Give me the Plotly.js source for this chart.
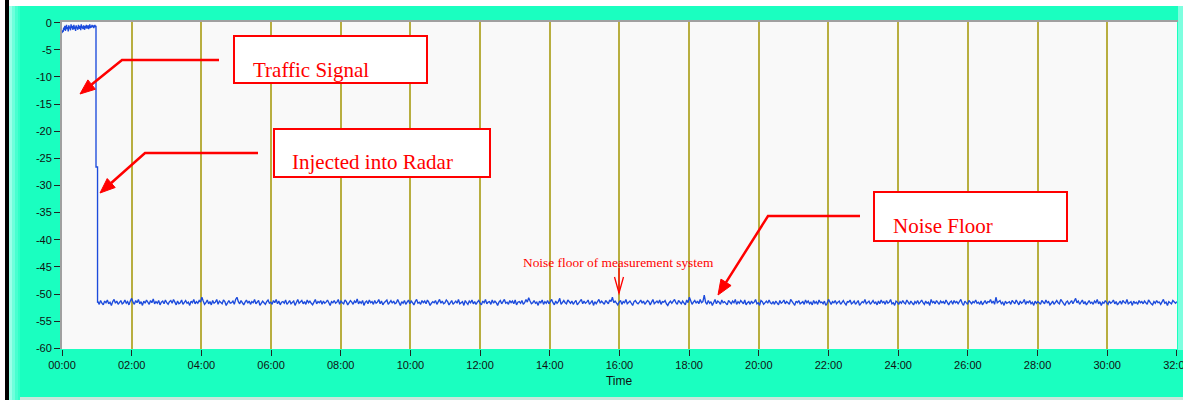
<!DOCTYPE html>
<html>
<head>
<meta charset="utf-8">
<script src="https://cdn.plot.ly/plotly-3.0.1.min.js"></script>
<style>html,body{margin:0;padding:0;background:#fff;}#chart{width:1183px;height:400px;}</style>
</head>
<body>
<div id="chart"></div>
<script>
// ---- data ----
const xTickVals = [0,2,4,6,8,10,12,14,16,18,20,22,24,26,28,30,32];
const xTickText = ["00:00","02:00","04:00","06:00","08:00","10:00","12:00","14:00","16:00","18:00","20:00","22:00","24:00","26:00","28:00","30:00","32:00"];
const yTickVals = [0,-5,-10,-15,-20,-25,-30,-35,-40,-45,-50,-55,-60];
const yTickText = ["0","-5","-10","-15","-20","-25","-30","-35","-40","-45","-50","-55","-60"];

// traffic signal before injection (0:00 .. ~0:57)
const trafficStart = 0.0, trafficEnd = 0.96;
const trafficLevel = [
-1.9,-1.4,-1.7,-0.9,-1.3,-0.6,-1.5,-1.0,-0.4,-1.2,-0.8,-1.6,-0.5,-1.1,-0.7,-1.4,-0.3,-1.0,-0.6,-1.3,
-0.9,-0.4,-1.2,-0.7,-1.5,-0.5,-1.0,-0.8,-1.3,-0.4,-0.9,-1.1,-0.6,-1.4,-0.3,-1.0,-0.7,-1.2,-0.5,-0.9,
-1.3,-0.6,-1.0,-0.4,-1.1,-0.8,-0.5,-1.2,-0.7,-0.3,-1.0,-0.6,-0.9,-0.4,-0.8,-0.5,-1.0,-0.6,-0.4,-0.7];

// step down while signal is injected into radar
const stepTime  = [0.976, 0.976, 1.02, 1.02];
const stepLevel = [-0.7, -26.6, -26.6, -51.6];

// noise floor of the measurement system (1:02 .. 32:00)
const noiseStart = 1.03, noiseEnd = 32.0;
const noiseLevel = [
-51.4,-51.9,-51.2,-51.7,-52.0,-51.3,-51.6,-51.1,-51.8,-51.5,-52.1,-51.4,-51.0,-51.7,-51.3,-51.9,-51.5,-51.2,-51.8,-51.6,-51.1,-51.7,-51.4,-52.0,-51.3,
-50.8,-51.5,-51.9,-51.2,-51.6,-51.0,-51.8,-51.4,-52.1,-51.3,-51.7,-51.1,-51.5,-51.9,-51.2,-51.6,-50.9,-51.8,-51.4,-51.7,-51.2,-52.0,-51.5,-51.3,-51.8,
-51.1,-51.6,-51.9,-51.4,-51.2,-51.7,-51.0,-51.5,-52.0,-51.3,-51.8,-51.6,-51.1,-51.9,-51.4,-51.2,-51.7,-51.5,-52.1,-51.3,-51.6,-51.0,-51.8,-51.4,-51.7,
-51.2,-51.5,-50.6,-51.3,-51.9,-51.6,-51.1,-51.8,-51.4,-52.0,-51.2,-51.7,-51.5,-51.0,-51.9,-51.3,-51.6,-51.8,-51.1,-51.4,-52.1,-51.5,-51.2,-51.7,-51.6,
-51.3,-51.9,-51.0,-50.6,-51.4,-51.8,-51.2,-51.6,-52.0,-51.5,-51.1,-51.7,-51.3,-51.9,-51.4,-51.6,-51.0,-51.8,-51.5,-51.2,-52.1,-51.7,-51.3,-51.6,-51.9,
-51.4,-51.1,-51.7,-51.5,-51.9,-51.2,-51.6,-51.0,-51.8,-51.3,-52.0,-51.5,-51.4,-51.7,-51.1,-51.9,-51.6,-51.2,-51.8,-51.5,-51.3,-52.1,-51.6,-51.0,-51.7,
-51.5,-51.2,-51.8,-51.4,-51.9,-51.1,-51.6,-51.3,-51.7,-52.0,-51.5,-51.0,-51.8,-51.4,-51.6,-51.2,-51.9,-51.3,-51.7,-51.5,-51.1,-51.8,-52.1,-51.4,-51.6,
-51.2,-51.7,-51.5,-51.0,-51.9,-51.3,-51.6,-51.8,-51.1,-51.4,-52.0,-51.7,-51.2,-51.5,-51.9,-51.3,-51.6,-50.9,-51.8,-51.4,-51.7,-51.2,-52.1,-51.5,-51.3,
-51.8,-51.1,-51.6,-51.4,-51.9,-51.2,-51.7,-51.5,-51.0,-51.8,-51.3,-52.0,-51.6,-51.4,-51.1,-51.9,-51.5,-51.2,-51.7,-51.3,-51.8,-51.6,-51.0,-51.5,-52.1,
-51.4,-51.7,-51.2,-51.9,-51.5,-51.1,-51.8,-51.3,-51.6,-52.0,-51.4,-51.0,-51.7,-51.5,-51.9,-51.2,-51.6,-51.3,-51.8,-51.1,-51.5,-52.1,-51.7,-51.4,-51.6,
-51.2,-51.9,-51.5,-51.0,-51.7,-51.3,-51.8,-51.6,-51.1,-51.4,-52.0,-51.5,-51.2,-51.9,-51.6,-51.3,-51.7,-51.0,-51.8,-51.5,-51.4,-52.1,-51.2,-51.6,-51.9,
-51.3,-51.6,-51.1,-51.8,-51.4,-51.9,-51.5,-51.2,-51.7,-52.0,-51.3,-51.6,-51.0,-51.8,-51.5,-51.4,-51.9,-51.1,-51.7,-51.3,-51.6,-52.1,-51.5,-51.2,-51.8,
-51.4,-51.0,-51.7,-51.5,-51.9,-51.2,-51.6,-51.3,-51.8,-51.1,-52.0,-51.5,-51.4,-51.7,-51.2,-51.9,-51.6,-51.0,-51.5,-50.7,-51.3,-51.8,-51.6,-51.2,-51.7,
-51.5,-52.1,-51.3,-51.6,-51.1,-51.9,-51.4,-51.7,-51.2,-51.8,-51.5,-51.0,-51.6,-52.0,-51.3,-51.7,-51.4,-50.8,-51.9,-51.5,-51.2,-51.6,-51.8,-51.1,-51.4,
-51.7,-51.3,-51.9,-51.5,-51.2,-52.0,-51.6,-51.4,-51.0,-51.8,-51.3,-51.7,-51.5,-51.1,-51.9,-51.6,-51.2,-52.1,-51.4,-51.8,-51.5,-51.0,-51.7,-51.3,-51.6,
-51.9,-51.2,-51.5,-51.8,-51.1,-51.4,-50.6,-51.6,-51.3,-51.7,-52.0,-51.5,-51.2,-51.9,-51.4,-51.6,-51.0,-51.8,-51.5,-51.3,-51.7,-52.1,-51.4,-51.2,-51.6,
-51.8,-51.5,-51.1,-51.7,-51.3,-51.9,-51.6,-51.2,-51.4,-52.0,-51.5,-51.0,-51.8,-51.6,-51.3,-51.7,-51.1,-51.9,-51.4,-51.5,-51.2,-51.8,-52.1,-51.6,-51.3,
-51.7,-51.4,-51.0,-51.6,-51.9,-51.2,-51.5,-51.8,-51.3,-51.7,-52.0,-51.1,-51.6,-50.6,-51.4,-51.9,-51.5,-51.2,-51.7,-51.3,-51.8,-51.0,-51.6,-51.4,-50.2,
-51.5,-51.9,-51.2,-51.7,-51.4,-52.1,-51.6,-51.0,-51.8,-51.3,-51.5,-51.9,-51.1,-51.6,-51.4,-51.7,-52.0,-51.2,-51.5,-51.8,-51.3,-51.6,-51.0,-51.9,-51.4,
-51.7,-51.2,-51.5,-51.8,-51.1,-52.0,-51.6,-51.4,-51.9,-51.3,-51.7,-51.5,-51.0,-51.8,-51.6,-52.1,-51.2,-51.4,-51.9,-51.5,-51.3,-51.7,-51.1,-51.6,-51.8,
-51.4,-51.9,-51.3,-51.6,-52.0,-51.2,-51.7,-51.5,-51.1,-51.8,-51.4,-51.6,-51.9,-51.0,-51.5,-51.7,-52.1,-51.3,-51.6,-51.2,-51.8,-51.5,-51.4,-51.9,-51.1,
-51.6,-51.3,-51.8,-51.5,-52.0,-51.2,-51.7,-51.4,-51.9,-51.1,-51.6,-51.5,-51.8,-51.3,-52.1,-51.7,-51.0,-51.5,-51.9,-51.4,-51.6,-51.2,-51.8,-51.5,-51.3,
-51.9,-51.6,-51.2,-51.7,-52.0,-51.4,-51.5,-51.1,-51.8,-51.6,-51.3,-51.9,-51.5,-51.2,-52.1,-51.7,-51.4,-51.6,-51.0,-51.8,-51.5,-51.3,-51.9,-51.6,-51.2,
-51.7,-51.5,-52.0,-51.3,-51.8,-51.1,-51.6,-51.4,-51.9,-51.2,-51.7,-51.5,-51.0,-51.8,-51.6,-52.1,-51.3,-51.5,-51.9,-51.4,-51.7,-51.2,-51.6,-51.8,-51.1,
-51.5,-51.9,-51.3,-51.6,-52.0,-51.4,-51.7,-51.2,-51.8,-51.5,-51.1,-51.6,-51.9,-51.3,-51.7,-51.5,-52.1,-51.0,-51.6,-51.4,-51.8,-51.2,-51.5,-51.9,-51.3,
-51.6,-51.4,-51.8,-51.1,-51.7,-52.0,-51.5,-51.3,-51.9,-51.2,-51.6,-51.4,-51.8,-51.5,-51.0,-51.7,-52.1,-51.3,-51.6,-51.9,-51.2,-51.5,-51.8,-51.4,-51.6,
-51.1,-51.7,-51.5,-51.9,-51.3,-52.0,-51.6,-51.2,-51.8,-51.4,-51.5,-51.0,-51.7,-51.3,-51.9,-50.6,-51.6,-51.4,-51.2,-51.8,-51.5,-52.1,-51.3,-51.7,-51.6,
-51.4,-51.9,-51.2,-51.5,-51.8,-51.1,-51.6,-52.0,-51.3,-51.7,-51.5,-51.0,-51.9,-51.4,-51.6,-51.2,-51.8,-51.5,-52.1,-51.3,-51.7,-51.4,-51.6,-51.9,-51.2,
-51.5,-51.8,-51.1,-51.6,-51.4,-52.0,-51.7,-51.3,-51.9,-51.5,-51.2,-51.6,-51.8,-51.0,-51.4,-51.7,-52.1,-51.5,-51.3,-51.9,-51.6,-51.2,-51.8,-51.4,-50.8,
-51.6,-51.3,-51.9,-51.5,-51.1,-51.8,-51.4,-52.0,-51.6,-51.2,-51.7,-51.5,-51.9,-51.3,-51.6,-51.0,-51.8,-51.4,-52.1,-51.5,-51.7,-51.2,-51.6,-51.9,-51.3,
-51.7,-51.5,-51.1,-51.8,-51.4,-52.0,-51.6,-51.3,-51.9,-51.2,-51.5,-51.7,-51.0,-51.8,-51.6,-51.4,-52.1,-51.3,-51.7,-51.5,-51.9,-51.2,-51.6,-51.4,-51.8,
-51.3,-51.6,-51.9,-51.1,-51.5,-51.8,-52.0,-51.4,-51.7,-51.2,-51.6,-51.5,-51.9,-51.3,-51.0,-51.7,-51.5,-52.1,-51.4,-51.6,-51.8,-51.2,-51.5,-51.7,-51.4
];

// annotation texts
const labelTraffic = "Traffic Signal";
const labelInjected = "Injected into Radar";
const labelNoise = "Noise Floor";
const labelSystem = "Noise floor of measurement system";

// ---- build the trace ----
const xs = [], ys = [];
trafficLevel.forEach((v,i)=>{ xs.push(trafficStart + i*(trafficEnd-trafficStart)/(trafficLevel.length-1)); ys.push(v); });
stepTime.forEach((t,i)=>{ xs.push(t); ys.push(stepLevel[i]); });
noiseLevel.forEach((v,i)=>{ xs.push(noiseStart + i*(noiseEnd-noiseStart)/(noiseLevel.length-1)); ys.push(v); });

// ---- page geometry helpers (pixel -> paper) ----
const L=61, R=6, T=21, B=51, W=1183, H=400;
const PW = W-L-R, PH = H-T-B;
const pX = x => (x-L)/PW;
const pY = y => (T+PH-y)/PH;

function rect(x0,y0,x1,y1,fill,layer){
  return {type:'rect',xref:'paper',yref:'paper',x0:pX(x0),x1:pX(x1),y0:pY(y1),y1:pY(y0),
          fillcolor:fill,line:{width:0},layer:layer||'below'};
}
function box(x0,y0,x1,y1){
  return {type:'rect',xref:'paper',yref:'paper',x0:pX(x0),x1:pX(x1),y0:pY(y1),y1:pY(y0),
          fillcolor:'#ffffff',line:{color:'#ff0000',width:2},layer:'above'};
}
function pathShape(pts,width,fill){
  let d = pts.map((p,i)=>(i?'L':'M')+pX(p[0]).toFixed(5)+','+pY(p[1]).toFixed(5)).join(' ');
  if (fill) d += ' Z';
  const s = {type:'path',xref:'paper',yref:'paper',path:d,line:{color:'#ff0000',width:width},layer:'above'};
  if (fill) s.fillcolor = '#ff0000';
  return s;
}
function arrow(pts, tip, len, half){
  const last = pts[pts.length-1];
  let dx = tip[0]-last[0], dy = tip[1]-last[1];
  const n = Math.hypot(dx,dy); dx/=n; dy/=n;
  const base = [tip[0]-len*dx, tip[1]-len*dy];
  const c1 = [base[0]-half*dy, base[1]+half*dx];
  const c2 = [base[0]+half*dy, base[1]-half*dx];
  return [pathShape(pts.concat([base]),2.5,false), pathShape([tip,c1,c2],1,true)];
}

const shapes = [
  rect(0,0,W,6,'#ffffff','above'),
  rect(0,0,5,H,'#ffffff','above'),
  rect(5,0,9,H,'#000000','above'),
  rect(9,6,12,H,'#9affe8','above'),
  rect(12,6,15,H,'#6effdc','above'),
  rect(15,6,18,H,'#48ffd0','above'),
  rect(18,6,20,H,'#30ffc8','above'),
  rect(20,397,W,H,'#c8e8dc','above'),
  rect(1178,6,W,350,'#7dffdf','above'),
  rect(60,20,1178,22,'#a0a0a0','above'),
  rect(60,20,62,349,'#a0a0a0','above'),
  box(234,36,427,83),
  box(274,129,490,177),
  box(874,192,1067,241),
  ...arrow([[219,60],[122,60]],[80,94],15,6),
  ...arrow([[258,153],[145,153]],[100,193],15,6),
  ...arrow([[860,216],[768,216]],[718,295],15,6),
  pathShape([[619,268],[619,293]],1.3,false),
  pathShape([[614.5,277],[619,293],[623.5,277]],1.3,false)
];

const serif = 'Liberation Serif, Times New Roman, serif';
const annotations = [
  {xref:'paper',yref:'paper',x:pX(251),y:pY(70),xanchor:'left',yanchor:'middle',text:labelTraffic,showarrow:false,font:{family:serif,size:21,color:'#ff0000'}},
  {xref:'paper',yref:'paper',x:pX(290),y:pY(162),xanchor:'left',yanchor:'middle',text:labelInjected,showarrow:false,font:{family:serif,size:21,color:'#ff0000'}},
  {xref:'paper',yref:'paper',x:pX(891),y:pY(226),xanchor:'left',yanchor:'middle',text:labelNoise,showarrow:false,font:{family:serif,size:21,color:'#ff0000'}},
  {xref:'paper',yref:'paper',x:pX(618),y:pY(262.5),xanchor:'center',yanchor:'middle',text:labelSystem,showarrow:false,font:{family:serif,size:13.4,color:'#ff0000'}}
];

const trace = {x:xs,y:ys,type:'scatter',mode:'lines',line:{color:'#1c4bdc',width:1.35},hoverinfo:'skip',showlegend:false};

const tickFont = {family:'Liberation Sans, Arial, sans-serif',size:11,color:'#111111'};
const layout = {
  width:W,height:H,
  margin:{l:L,r:R,t:T,b:B,pad:0},
  paper_bgcolor:'#1affc0',
  plot_bgcolor:'#f9f9f9',
  showlegend:false,
  xaxis:{range:[-1/34.84,32.003],tickvals:xTickVals,ticktext:xTickText,ticks:'outside',ticklen:6,tickcolor:'#222222',tickwidth:1,
         ticklabeloverflow:'allow',
         showgrid:true,gridcolor:'#b8ae40',gridwidth:2,zeroline:false,showline:false,tickfont:tickFont,
         title:{text:'Time',font:{family:'Liberation Sans, Arial, sans-serif',size:12,color:'#111111'},standoff:6},automargin:false},
  yaxis:{range:[-60.13,0.31],tickvals:yTickVals,ticktext:yTickText,ticks:'outside',ticklen:6,tickcolor:'#222222',tickwidth:1,
         showgrid:false,zeroline:false,showline:false,tickfont:tickFont,automargin:false},
  shapes:shapes,
  annotations:annotations
};

Plotly.newPlot('chart',[trace],layout,{staticPlot:true,displayModeBar:false});
</script>
</body>
</html>
